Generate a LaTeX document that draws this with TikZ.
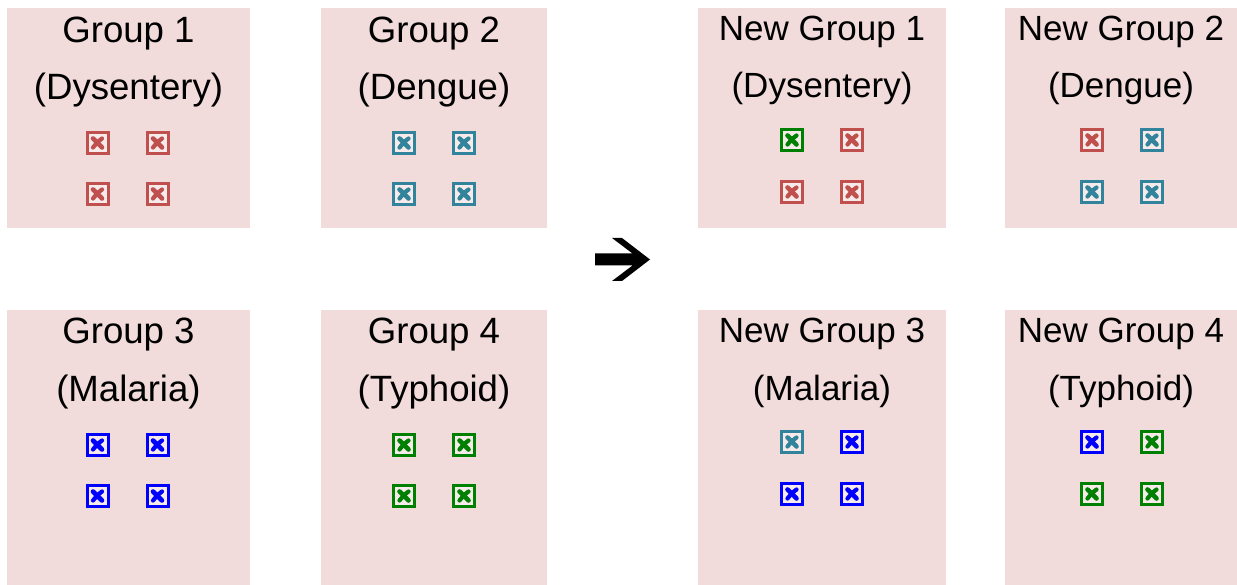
\documentclass[tikz,border=0pt]{standalone}
\usepackage{fontspec}
\setmainfont{Liberation Sans}
\definecolor{boxpink}{HTML}{F2DCDB}
\definecolor{iconin}{HTML}{F7EAEA}
\definecolor{cred}{HTML}{C0504D}
\definecolor{cteal}{HTML}{31849B}
\definecolor{cblue}{HTML}{0000FF}
\definecolor{cgreen}{HTML}{008000}
\tikzset{
  grpbox/.style={fill=boxpink, draw=none, inner sep=0pt},
  oldtxt/.style={anchor=base, inner sep=0pt, font=\fontsize{36.6}{43}\selectfont},
  newtxt/.style={anchor=base, inner sep=0pt, font=\fontsize{35}{42}\selectfont},
  icon/.style={draw=#1, fill=iconin, line width=3pt, minimum size=21pt, inner sep=0pt,
    path picture={
      \draw[#1, line width=4.6pt, line cap=round]
        ([xshift=-4.5pt,yshift=4.5pt]path picture bounding box.center) -- ([xshift=4.5pt,yshift=-4.5pt]path picture bounding box.center);
      \draw[#1, line width=4.2pt, line cap=round]
        ([xshift=4.5pt,yshift=4.5pt]path picture bounding box.center) .. controls ([xshift=0pt,yshift=1pt]path picture bounding box.center) .. ([xshift=-4.5pt,yshift=-4.5pt]path picture bounding box.center);
    }},
  bigarrow/.style={fill=black, draw=none}
}
\begin{document}
\begin{tikzpicture}[x=1pt, y=-1pt]
\useasboundingbox (0,0) rectangle (1237,585);
% boxes
\node[grpbox, minimum width=243pt, minimum height=220pt] (g1) at (128.5,118) {};
\node[grpbox, minimum width=226pt, minimum height=220pt] (g2) at (434,118) {};
\node[grpbox, minimum width=248pt, minimum height=220pt] (n1) at (822,118) {};
\node[grpbox, minimum width=232pt, minimum height=220pt] (n2) at (1121,118) {};
\node[grpbox, minimum width=243pt, minimum height=275pt] (g3) at (128.5,447.5) {};
\node[grpbox, minimum width=226pt, minimum height=275pt] (g4) at (434,447.5) {};
\node[grpbox, minimum width=248pt, minimum height=275pt] (n3) at (822,447.5) {};
\node[grpbox, minimum width=232pt, minimum height=275pt] (n4) at (1121,447.5) {};
% titles
\node[oldtxt] (g1t) at (128.5,43) {Group 1};
\node[oldtxt] (g1s) at (128.5,100) {(Dysentery)};
\node[oldtxt] (g2t) at (434,43) {Group 2};
\node[oldtxt] (g2s) at (434,100) {(Dengue)};
\node[newtxt] (n1t) at (822,41) {New Group 1};
\node[newtxt] (n1s) at (822,98) {(Dysentery)};
\node[newtxt] (n2t) at (1121,41) {New Group 2};
\node[newtxt] (n2s) at (1121,98) {(Dengue)};
\node[oldtxt] (g3t) at (128.5,344) {Group 3};
\node[oldtxt] (g3s) at (128.5,401) {(Malaria)};
\node[oldtxt] (g4t) at (434,344) {Group 4};
\node[oldtxt] (g4s) at (434,401) {(Typhoid)};
\node[newtxt] (n3t) at (822,342) {New Group 3};
\node[newtxt] (n3s) at (822,400) {(Malaria)};
\node[newtxt] (n4t) at (1121,342) {New Group 4};
\node[newtxt] (n4s) at (1121,400) {(Typhoid)};
% icons group 1
\node[icon=cred] (g1a) at (97.5,143) {};
\node[icon=cred] (g1b) at (157.5,143) {};
\node[icon=cred] (g1c) at (97.5,194) {};
\node[icon=cred] (g1d) at (157.5,194) {};
% group 2
\node[icon=cteal] (g2a) at (404,143) {};
\node[icon=cteal] (g2b) at (464,143) {};
\node[icon=cteal] (g2c) at (404,194) {};
\node[icon=cteal] (g2d) at (464,194) {};
% group 3
\node[icon=cblue] (g3a) at (97.5,445) {};
\node[icon=cblue] (g3b) at (157.5,445) {};
\node[icon=cblue] (g3c) at (97.5,496) {};
\node[icon=cblue] (g3d) at (157.5,496) {};
% group 4
\node[icon=cgreen] (g4a) at (404,445) {};
\node[icon=cgreen] (g4b) at (464,445) {};
\node[icon=cgreen] (g4c) at (404,496) {};
\node[icon=cgreen] (g4d) at (464,496) {};
% new group 1
\node[icon=cgreen] (n1a) at (792,140) {};
\node[icon=cred] (n1b) at (852,140) {};
\node[icon=cred] (n1c) at (792,192) {};
\node[icon=cred] (n1d) at (852,192) {};
% new group 2
\node[icon=cred] (n2a) at (1092,140) {};
\node[icon=cteal] (n2b) at (1152,140) {};
\node[icon=cteal] (n2c) at (1092,192) {};
\node[icon=cteal] (n2d) at (1152,192) {};
% new group 3
\node[icon=cteal] (n3a) at (792,442) {};
\node[icon=cblue] (n3b) at (852,442) {};
\node[icon=cblue] (n3c) at (792,494) {};
\node[icon=cblue] (n3d) at (852,494) {};
% new group 4
\node[icon=cblue] (n4a) at (1092,442) {};
\node[icon=cgreen] (n4b) at (1152,442) {};
\node[icon=cgreen] (n4c) at (1092,494) {};
\node[icon=cgreen] (n4d) at (1152,494) {};
% arrow
\fill[bigarrow] (595,253.5) -- (632.5,253.5) -- (612,238) -- (622,238) -- (650,259.5)
  -- (622,281) -- (612,281) -- (632.5,265.5) -- (595,265.5) -- cycle;
\end{tikzpicture}
\end{document}
